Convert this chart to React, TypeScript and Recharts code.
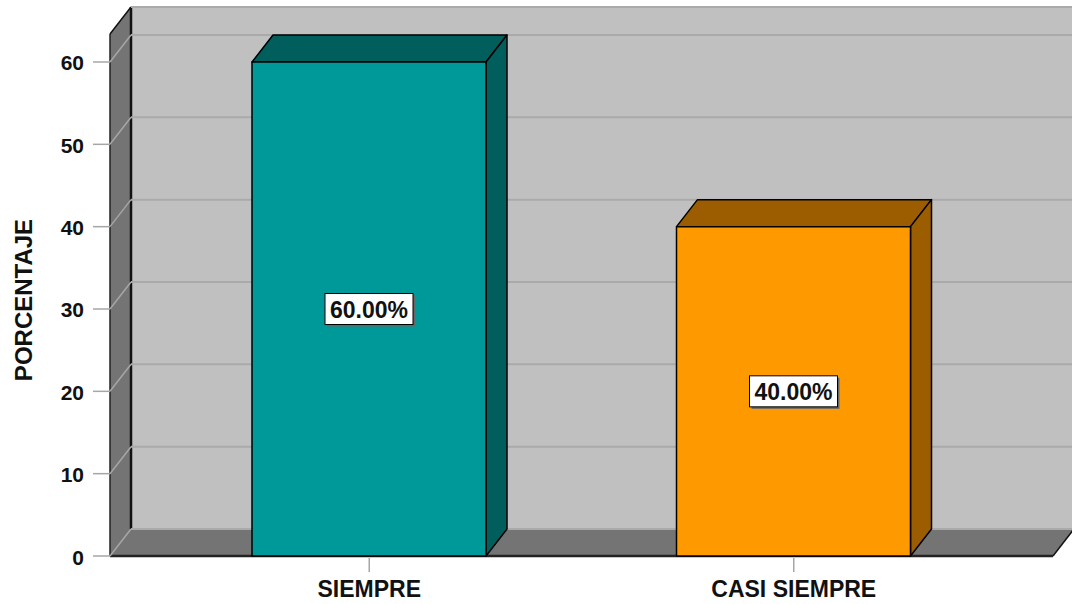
import React from 'react';
import {
  BarChart,
  Bar,
  XAxis,
  YAxis,
  CartesianGrid,
  ReferenceArea,
  LabelList,
  Cell
} from 'recharts';

const categories = ['SIEMPRE', 'CASI SIEMPRE'];
const percentages = [60, 40];
const yTicks = [0, 10, 20, 30, 40, 50, 60];
const yMax = 63.4;

const data = categories.map((name, i) => ({ name, value: percentages[i] }));

// layout
const W = 1072;
const H = 604;
const LEFT = 110;
const RIGHT = 1053;
const FLOOR = 556;
const DX = 21;
const DY = 27;
const PAD = 47;
const FONT = "'Liberation Sans', Arial, Helvetica, sans-serif";

const barColors = [
  { front: '#009999', dark: '#005f5d' },
  { front: '#ff9900', dark: '#9c5d00' }
];

function Walls(props: any) {
  const top = props.y;
  const bottom = props.y + props.height;
  const bTop = top - DY;
  const bBottom = bottom - DY;
  const bl = LEFT + DX;
  const br = W + 10;
  return (
    <g>
      <rect x={bl} y={bTop} width={br - bl} height={bBottom - bTop} fill="#c0c0c0" />
      <polygon
        points={`${LEFT},${top} ${bl},${bTop} ${bl},${bBottom} ${LEFT},${bottom}`}
        fill="#747474"
      />
      <polygon
        points={`${LEFT},${bottom} ${bl},${bBottom} ${RIGHT + DX},${bBottom} ${RIGHT},${bottom}`}
        fill="#747474"
      />
      <line x1={LEFT} y1={top} x2={bl} y2={bTop} stroke="#111" strokeWidth={1.5} />
      <line x1={LEFT} y1={top} x2={LEFT} y2={bottom} stroke="#222" strokeWidth={1.5} />
      <line x1={bl} y1={bTop} x2={br} y2={bTop} stroke="#111" strokeWidth={2} />
      <line x1={bl} y1={bTop} x2={bl} y2={bBottom} stroke="#111" strokeWidth={2.5} />
      <line x1={RIGHT} y1={bottom} x2={RIGHT + DX} y2={bBottom} stroke="#111" strokeWidth={1.5} />
      <line x1={LEFT} y1={bottom} x2={RIGHT} y2={bottom} stroke="#222" strokeWidth={2.5} />
    </g>
  );
}

function Bar3D(props: any) {
  const { x, y, width, height, index } = props;
  const c = barColors[index % barColors.length];
  const topFace = `${x},${y} ${x + DX},${y - DY} ${x + width + DX},${y - DY} ${x + width},${y}`;
  const sideFace = `${x + width},${y} ${x + width + DX},${y - DY} ${x + width + DX},${y + height - DY} ${x + width},${y + height}`;
  return (
    <g stroke="#000" strokeWidth={1.5} strokeLinejoin="round">
      <polygon points={topFace} fill={c.dark} />
      <polygon points={sideFace} fill={c.dark} />
      <rect x={x} y={y} width={width} height={height} fill={c.front} />
    </g>
  );
}

function ValueLabel(props: any) {
  const { x, y, width, height, value } = props;
  const cx = x + width / 2;
  const cy = y + height / 2;
  const bw = 88;
  const bh = 31;
  return (
    <g>
      <rect x={cx - bw / 2 + 2} y={cy - bh / 2 + 2} width={bw} height={bh} fill="#666" />
      <rect x={cx - bw / 2} y={cy - bh / 2} width={bw} height={bh} fill="#fff" stroke="#000" strokeWidth={1} />
      <text
        x={cx}
        y={cy + 1}
        textAnchor="middle"
        dominantBaseline="central"
        fontFamily={FONT}
        fontWeight="bold"
        fontSize={23}
        fill="#111"
      >
        {Number(value).toFixed(2)}%
      </text>
    </g>
  );
}

function YTick(props: any) {
  const { y, payload } = props;
  return (
    <g>
      <line x1={93} y1={y} x2={LEFT} y2={y} stroke="#a6a6a6" strokeWidth={1.5} />
      <line x1={LEFT} y1={y} x2={LEFT + DX} y2={y - DY} stroke="#a6a6a6" strokeWidth={1.5} />
      <text
        x={84}
        y={y + 1}
        textAnchor="end"
        dominantBaseline="central"
        fontFamily={FONT}
        fontWeight="bold"
        fontSize={21}
        fill="#111"
      >
        {payload.value}
      </text>
    </g>
  );
}

function XTick(props: any) {
  const { x, payload } = props;
  return (
    <g>
      <line x1={x} y1={FLOOR + 2} x2={x} y2={FLOOR + 16} stroke="#a6a6a6" strokeWidth={1.5} />
      <text
        x={x}
        y={597}
        textAnchor="middle"
        fontFamily={FONT}
        fontWeight="bold"
        fontSize={23}
        fill="#111"
      >
        {payload.value}
      </text>
    </g>
  );
}

function GridLine(p: any) {
  return (
    <line
      key={p.key ?? `g-${p.index}`}
      x1={p.x1 + DX}
      y1={p.y1 - DY}
      x2={W + 10}
      y2={p.y2 - DY}
      stroke="#aaaaaa"
      strokeWidth={2}
    />
  );
}

export default function App() {
  return (
    <div style={{ position: 'absolute', left: 0, top: 0, width: W, height: H, background: '#fff' }}>
      <BarChart
        width={W}
        height={H}
        data={data}
        margin={{ top: 34, right: W - RIGHT, bottom: 0, left: 0 }}
      >
        <ReferenceArea
          y1={0}
          y2={yMax}
          ifOverflow="visible"
          shape={(p: any) => <Walls {...p} />}
          zIndex={-200}
        />
        <CartesianGrid vertical={false} horizontal={(p: any) => GridLine(p)} zIndex={-150} />
        <XAxis
          dataKey="name"
          height={H - FLOOR}
          padding={{ left: PAD, right: PAD }}
          axisLine={false}
          tickLine={false}
          tick={(p: any) => <XTick {...p} />}
          interval={0}
        />
        <YAxis
          width={LEFT}
          domain={[0, yMax]}
          ticks={yTicks}
          interval={0}
          axisLine={false}
          tickLine={false}
          tick={(p: any) => <YTick {...p} />}
          label={{
            content: () => (
              <text
                x={23}
                y={300}
                transform="rotate(-90 23 300)"
                textAnchor="middle"
                dominantBaseline="central"
                fontFamily={FONT}
                fontWeight="bold"
                fontSize={24}
                fill="#111"
              >
                PORCENTAJE
              </text>
            )
          }}
        />
        <Bar dataKey="value" barSize={234} isAnimationActive={false} shape={(p: any) => <Bar3D {...p} />}>
          {data.map((d, i) => (
            <Cell key={d.name} fill={barColors[i].front} />
          ))}
          <LabelList dataKey="value" content={(p: any) => <ValueLabel {...p} />} />
        </Bar>
      </BarChart>
    </div>
  );
}
